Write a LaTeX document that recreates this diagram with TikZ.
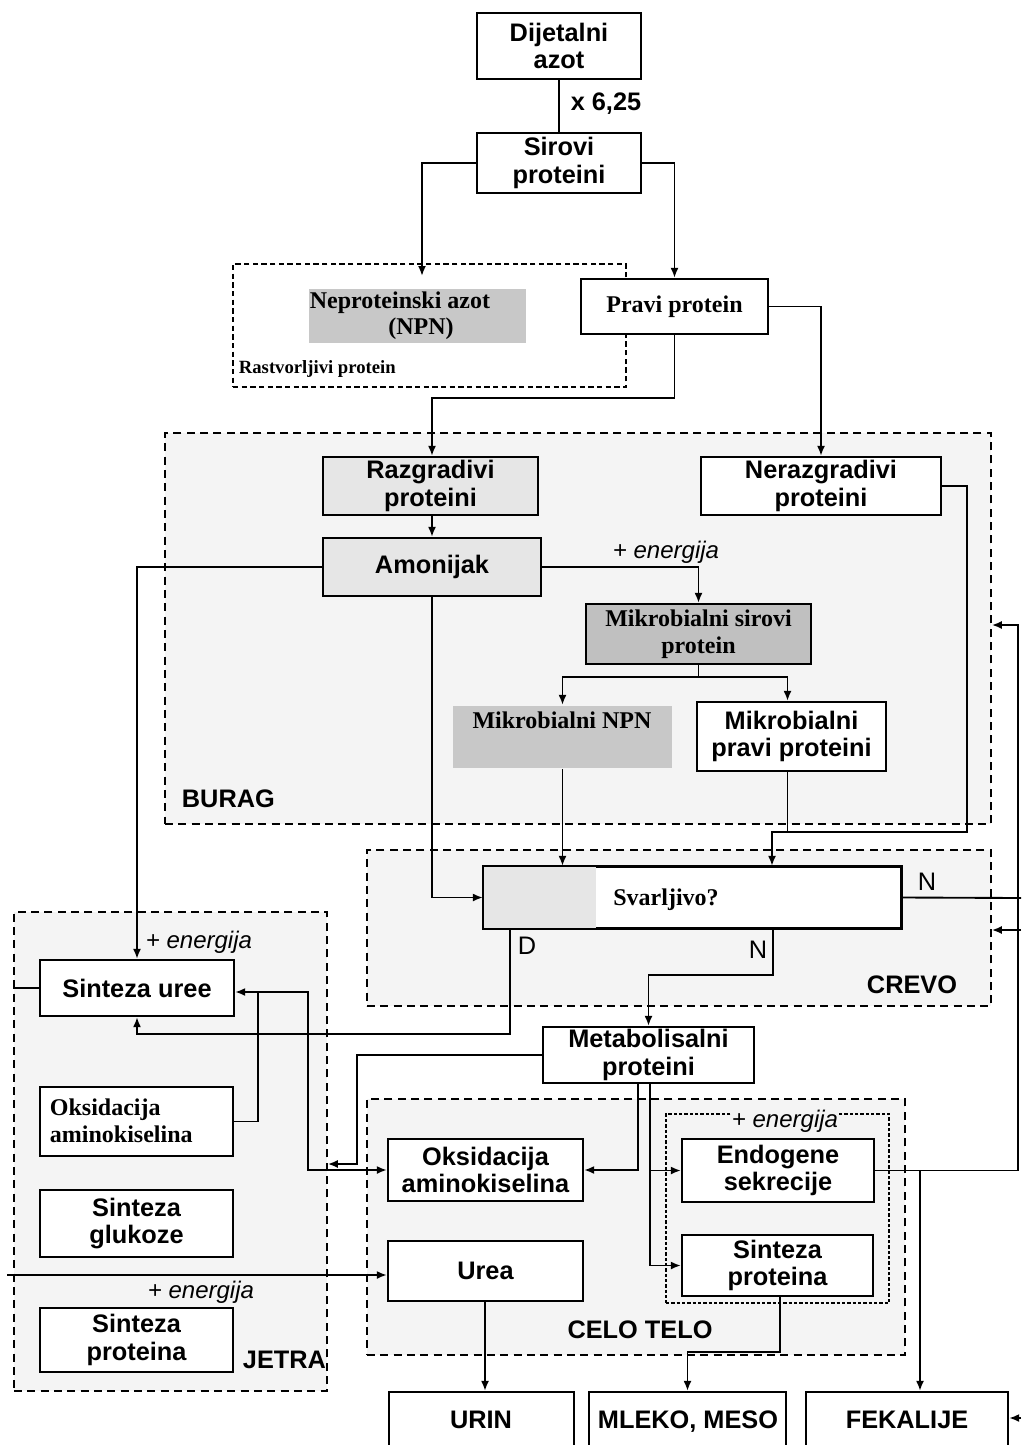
\documentclass[tikz,border=0pt]{standalone}
\usepackage{fontspec}
\setmainfont{Liberation Serif}
\setsansfont{Liberation Sans}
\usetikzlibrary{arrows.meta}
\definecolor{regbg}{HTML}{F4F4F4}
\definecolor{lgray}{HTML}{E6E6E6}
\definecolor{mgray}{HTML}{C8C8C8}
\definecolor{dgray}{HTML}{C0C0C0}
\newcommand\bx[7]{\node[#6, minimum width={(#4-#2)*0.75pt}, minimum height={(#5-#3)*0.75pt}] (#1) at ({(#2+#4)/2},{(#3+#5)/2}) {#7};}
\tikzset{
  sbox/.style={draw, line width=1.7pt, fill=white, inner sep=0pt, align=center, font=\sffamily\bfseries\fontsize{19}{20.5}\selectfont},
  rbox/.style={sbox, font=\rmfamily\bfseries\fontsize{18}{20}\selectfont},
  region/.style={draw, line width=1.2pt, fill=regbg, dash pattern=on 6pt off 4pt, inner sep=0pt},
  arr/.style={-{Latex[length=7.5pt,width=6pt]}},
  lab/.style={font=\sffamily\bfseries\fontsize{19}{20.5}\selectfont, inner sep=0pt, align=center},
  rlab/.style={font=\rmfamily\bfseries\fontsize{18}{20}\selectfont, inner sep=0pt, align=left},
  nlab/.style={font=\sffamily\fontsize{19}{20}\selectfont, inner sep=0pt},
  en/.style={font=\sffamily\itshape\fontsize{18}{20}\selectfont, inner sep=1pt}
}
\begin{document}
\begin{tikzpicture}[x=0.75pt,y=-0.75pt,line width=1.4pt]
\useasboundingbox (0,0) rectangle (1021,1445);
\clip (0,0) rectangle (1021,1445);
\fill[white] (0,0) rectangle (1021,1445);
% regions
\bx{rastv}{233}{264}{626}{387}{region, fill=white, dash pattern=on 4pt off 2.5pt}{}
\bx{burag}{165}{433}{991}{824}{region}{}
\bx{crevo}{367}{850}{991}{1006}{region}{}
\bx{jetra}{14}{912}{327}{1391}{region}{}
\bx{celo}{367}{1099}{905}{1355}{region}{}
\bx{inner}{666}{1114}{889}{1303}{region, line width=0.9pt, dash pattern=on 2.5pt off 1.5pt, fill=none}{}
% region labels
\node[lab, anchor=west] (lburag) at (181,799) {BURAG};
\node[lab, anchor=east] (lcrevo) at (958,985) {CREVO};
\node[lab, anchor=west] (ljetra) at (242,1360) {JETRA};
\node[lab] (lcelo) at (640,1330) {CELO TELO};
\node[font=\rmfamily\bfseries\fontsize{14}{16}\selectfont, inner sep=0pt, anchor=west] (lrast) at (238,369) {Rastvorljivi protein};
% boxes
\bx{dij}{477}{13}{641}{79}{sbox}{Dijetalni\\azot}
\bx{sir}{477}{133}{641}{193}{sbox}{Sirovi\\proteini}
\bx{npn}{309}{289}{526}{343}{rbox, draw=none, fill=mgray}{}
\node[rlab] (tnpn1) at (400,303) {Neproteinski azot};
\node[rlab] (tnpn2) at (421,329) {(NPN)};
\bx{pravi}{581}{279}{768}{334}{rbox}{Pravi protein}
\bx{razg}{323}{457}{538}{515}{sbox, fill=lgray}{Razgradivi\\proteini}
\bx{neraz}{701}{457}{941}{515}{sbox}{Nerazgradivi\\proteini}
\bx{amon}{323}{538}{541}{596}{sbox, fill=lgray}{Amonijak}
\bx{msir}{586}{604}{811}{664}{rbox, fill=dgray}{Mikrobialni sirovi\\protein}
\bx{mnpn}{453}{706}{672}{768}{rbox, draw=none, fill=mgray}{}
\node[rlab] (tmnpn) at (562,720) {Mikrobialni NPN};
\bx{mpravi}{697}{702}{886}{771}{sbox}{Mikrobialni\\pravi proteini}
\bx{svar}{484}{867}{901}{928}{sbox}{}
\fill[lgray] (svar.north west) rectangle ([xshift=84.75pt]svar.south west);
\draw[line width=1.7pt] (svar.north west) rectangle (svar.south east);
\node[rlab] (tsvar) at (666,900) {Svarljivo?};
\bx{suree}{40}{960}{234}{1016}{sbox}{Sinteza uree}
\bx{oks1}{40}{1087}{233}{1156}{sbox}{}
\node[rlab, anchor=west] (toks1) at (49,1121) {Oksidacija\\aminokiselina};
\bx{gluk}{40}{1190}{233}{1257}{sbox}{Sinteza\\glukoze}
\bx{sint1}{40}{1308}{233}{1372}{sbox}{Sinteza\\proteina}
\bx{metab}{543}{1027}{754}{1083}{sbox}{Metabolisalni\\proteini}
\bx{oks2}{388}{1139}{583}{1201}{sbox}{Oksidacija\\aminokiselina}
\bx{urea}{388}{1241}{583}{1301}{sbox}{Urea}
\bx{endo}{682}{1139}{874}{1202}{sbox}{Endogene\\sekrecije}
\bx{sint2}{682}{1235}{873}{1296}{sbox}{Sinteza\\proteina}
\bx{urin}{389}{1392}{574}{1460}{sbox}{}
\bx{mleko}{589}{1392}{786}{1460}{sbox}{}
\bx{fek}{806}{1392}{1008}{1460}{sbox}{}
\node[lab, anchor=base] (turin) at (481,1428) {URIN};
\node[lab, anchor=base] (tmleko) at (688,1428) {MLEKO, MESO};
\node[lab, anchor=base] (tfek) at (907,1428) {FEKALIJE};
% labels
\node[lab] (l625) at (606,104) {x 6,25};
\node[en] (en1) at (666,552) {+ energija};
\node[en] (en2) at (199,942) {+ energija};
\node[en] (en3) at (201,1292) {+ energija};
\node[en, fill=regbg] (en4) at (785,1121) {+ energija};
\node[nlab] (lN1) at (927,882) {N};
\node[nlab] (lD) at (527,946) {D};
\node[nlab] (lN2) at (758,950) {N};
% coordinates
\coordinate (npnin) at (422,276);
\coordinate (j1) at (432,398);
\coordinate (j2) at (698.5,677);
\coordinate (j3) at (772,832);
\coordinate (j4) at (967,832);
\coordinate (eN) at (1021,898);
\coordinate (eC) at (1021,930);
\coordinate (dD) at (510,1034);
\coordinate (jN) at (773,975);
\coordinate (jM) at (357,1164);
\coordinate (jO) at (638,1172);
\coordinate (jS) at (650,1265);
\coordinate (jE) at (1018,625);
\coordinate (jF) at (920,1170.5);
\coordinate (jMl) at (780,1352);
\coordinate (eF) at (1021,1418);
\coordinate (eU) at (7,1275);
\coordinate (jA) at (258,992);
\coordinate (jB) at (308,992);
\coordinate (jU) at (485,1301);
% connectors
\draw (dij) -- (sir);
\draw[arr] (sir.west) -| (npnin);
\draw[arr] (sir.east) -| (pravi.north);
\draw[arr] (pravi.south) |- (j1) -- (j1 |- razg.north);
\draw[arr] (pravi.east) -| (neraz.north);
\draw[arr] (j1 |- razg.south) -- (j1 |- amon.north);
\draw[arr] (amon.west) -| (suree.north);
\draw[arr] (amon.east) -| (msir.north);
\draw[arr] (amon.south) |- (svar.west);
\draw (msir.south) -- (j2);
\draw[arr] (j2) -| (mnpn.north);
\draw[arr] (j2) -| ([xshift=-3pt]mpravi.north);
\draw[arr] (mnpn.south) -- (mnpn.south |- svar.north);
\draw[arr] (neraz.east) -| (j4) -- (j3) -- (j3 |- svar.north);
\draw ([xshift=-3pt]mpravi.south) -- ([xshift=-3pt]mpravi.south |- j3);
\draw (svar.east) -- (eN);
\draw[arr] (eC) -- (eC -| crevo.east);
\draw[arr] (svar.south -| dD) -- (dD) -| (suree.south);
\draw[arr] (svar.south -| jN) -- (jN) -| (metab.north);
\draw[arr] (metab.west) -| (jM) -- (jM -| jetra.east);
\draw[arr] (metab.south -| jO) |- (oks2.east);
\draw[arr] (metab.south -| jS) |- (sint2.west);
\draw[arr] (metab.south -| jS) |- (endo.west);
\draw[arr] (endo.east) -| (jE) -- (jE -| burag.east);
\draw[arr] (jF) -- (jF |- fek.north);
\draw[arr] (jU) -- (jU |- urin.north);
\draw[arr] (sint2.south -| jMl) -- (jMl) -| (mleko.north);
\draw[arr] (eF) -- (eF -| fek.east);
\draw[arr] (eU) -- (eU -| urea.west);
\draw (suree.west) -- (suree.west -| jetra.west);
\draw[arr] (oks1.east) -| (jA) -- (jA -| suree.east);
\draw[arr] (jA) -- (jB) |- (oks2.west);
\end{tikzpicture}
\end{document}
